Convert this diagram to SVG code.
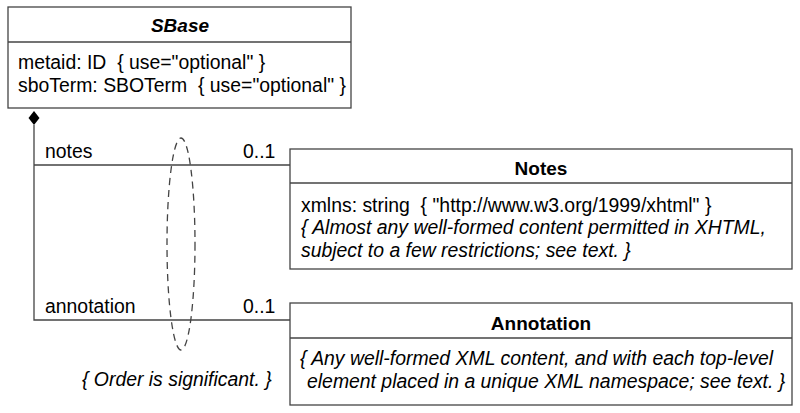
<svg xmlns="http://www.w3.org/2000/svg" width="800" height="413" viewBox="0 0 800 413">
<style>
.box{fill:#fff;stroke:#444;stroke-width:1.3}
.ln{stroke:#444;stroke-width:1.3;fill:none}
text{font-family:"Liberation Sans",Arial,sans-serif;font-size:19.4px;fill:#000}
.t{font-weight:bold;text-anchor:middle;font-size:19px}
.i{font-style:italic}
</style>
<rect width="800" height="413" fill="#fff"/>
<g id="connectors">
<path class="ln" d="M34 125 V320 H290 M34 165 H290"/>
<path d="M34 111 L39.5 118 L34 125 L28.5 118 Z" fill="#000"/>
<ellipse cx="181" cy="244" rx="14" ry="106" class="ln" stroke-dasharray="7,5"/>
<text x="45" y="158">notes</text>
<text x="243" y="158">0..1</text>
<text x="45" y="313">annotation</text>
<text x="243" y="313">0..1</text>
<text x="82" y="386" class="i">{ Order is significant. }</text>
</g>
<g id="SBase">
<rect class="box" x="8" y="7" width="343" height="101"/>
<line class="ln" x1="8" y1="42" x2="351" y2="42"/>
<text x="180" y="32" class="t i">SBase</text>
<text x="18" y="69" xml:space="preserve">metaid: ID  { use="optional" }</text>
<text x="18" y="92" xml:space="preserve">sboTerm: SBOTerm  { use="optional" }</text>
</g>
<g id="Notes">
<rect class="box" x="290" y="149" width="502" height="120"/>
<line class="ln" x1="290" y1="183" x2="792" y2="183"/>
<text x="541" y="175" class="t">Notes</text>
<text x="301" y="212" xml:space="preserve">xmlns: string  { "http://www.w3.org/1999/xhtml" }</text>
<text x="301" y="234" class="i">{ Almost any well-formed content permitted in XHTML,</text>
<text x="301" y="257" class="i">subject to a few restrictions; see text. }</text>
</g>
<g id="Annotation">
<rect class="box" x="290" y="303" width="502" height="102"/>
<line class="ln" x1="290" y1="338" x2="792" y2="338"/>
<text x="541" y="330" class="t">Annotation</text>
<text x="300" y="365" class="i">{ Any well-formed XML content, and with each top-level</text>
<text x="307" y="388" class="i">element placed in a unique XML namespace; see text. }</text>
</g>
</svg>
